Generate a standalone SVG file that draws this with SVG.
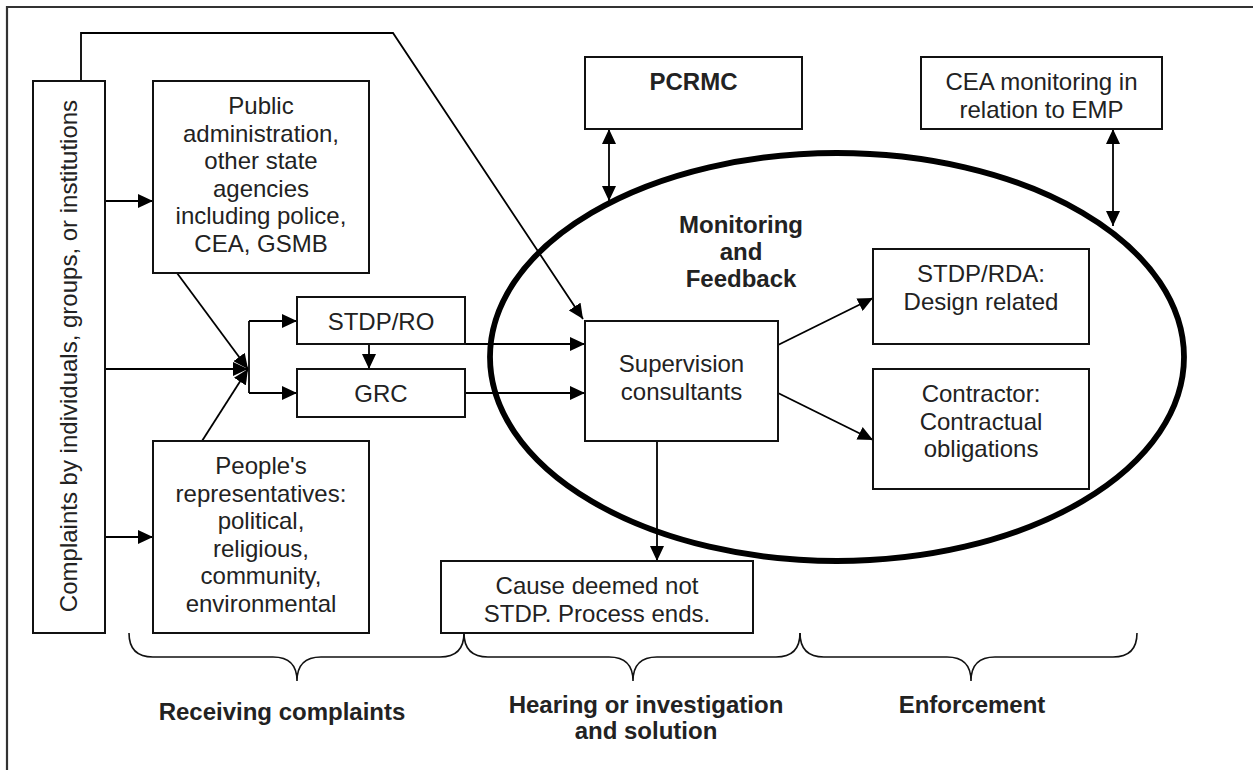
<svg xmlns="http://www.w3.org/2000/svg" width="1253" height="770" viewBox="0 0 1253 770">
  <style>
    .box { fill: #fff; stroke: #111; stroke-width: 2; }
    .t { font-family: "Liberation Sans", Arial, sans-serif; font-size: 24px; fill: #222; text-anchor: middle; }
    .b { font-weight: bold; }
    .ln { fill: none; stroke: #000; stroke-width: 1.8; }
    .arr { marker-end: url(#ah); }
    .dbl { marker-start: url(#ah); marker-end: url(#ah); }
    .brace { fill: none; stroke: #111; stroke-width: 1.6; }
  </style>
  <defs>
    <marker id="ah" viewBox="0 0 15 14" refX="15" refY="7" markerWidth="15" markerHeight="14" markerUnits="userSpaceOnUse" orient="auto-start-reverse">
      <path d="M0,0 L15,7 L0,14 z" fill="#000"/>
    </marker>
  </defs>

  <rect width="1253" height="770" fill="#fff"/>

  <!-- frame (top and left edges) -->
  <path d="M7,770 V7 H1253" fill="none" stroke="#333" stroke-width="2.2"/>

  <!-- monitoring ellipse -->
  <g id="monitoring">
    <ellipse cx="837" cy="357" rx="347" ry="204" fill="none" stroke="#000" stroke-width="5.8"/>
    <text class="t b" x="741" y="233">Monitoring</text>
    <text class="t b" x="741" y="259.5">and</text>
    <text class="t b" x="741" y="287">Feedback</text>
  </g>

  <!-- connectors -->
  <g id="connectors">
    <path class="ln arr" d="M81,81 V33 H393 L583,319"/>
    <path class="ln arr" d="M105,201 H153"/>
    <path class="ln arr" d="M105,537 H153"/>
    <path class="ln arr" d="M105,369 H248"/>
    <path class="ln arr" d="M177,273 L248,369"/>
    <path class="ln arr" d="M202,441 L248,369"/>
    <path class="ln" d="M249,321 V393"/>
    <path class="ln arr" d="M249,321 H297"/>
    <path class="ln arr" d="M249,393 H297"/>
    <path class="ln arr" d="M369,344 V369"/>
    <path class="ln arr" d="M465,344 H585"/>
    <path class="ln arr" d="M465,393 H585"/>
    <path class="ln arr" d="M778,345 L873,298"/>
    <path class="ln arr" d="M778,393 L873,440"/>
    <path class="ln arr" d="M657,441 V561"/>
    <path class="ln dbl" d="M609,129 V201"/>
    <path class="ln dbl" d="M1113,129 V226"/>
  </g>

  <g id="complaints">
    <rect class="box" x="33" y="81" width="72" height="552"/>
    <text class="t" transform="translate(77,356) rotate(-90)" x="0" y="0">Complaints by individuals, groups, or institutions</text>
  </g>

  <g id="public-admin">
    <rect class="box" x="153" y="81" width="216" height="192"/>
    <text class="t" x="261" y="114">Public</text>
    <text class="t" x="261" y="141.5">administration,</text>
    <text class="t" x="261" y="169">other state</text>
    <text class="t" x="261" y="196.5">agencies</text>
    <text class="t" x="261" y="224">including police,</text>
    <text class="t" x="261" y="251.5">CEA, GSMB</text>
  </g>

  <g id="peoples-reps">
    <rect class="box" x="153" y="441" width="216" height="192"/>
    <text class="t" x="261" y="474">People's</text>
    <text class="t" x="261" y="501.5">representatives:</text>
    <text class="t" x="261" y="529">political,</text>
    <text class="t" x="261" y="556.5">religious,</text>
    <text class="t" x="261" y="584">community,</text>
    <text class="t" x="261" y="611.5">environmental</text>
  </g>

  <g id="stdp-ro">
    <rect class="box" x="297" y="297" width="168" height="47"/>
    <text class="t" x="381" y="330">STDP/RO</text>
  </g>

  <g id="grc">
    <rect class="box" x="297" y="369" width="168" height="48"/>
    <text class="t" x="381" y="402">GRC</text>
  </g>

  <g id="supervision">
    <rect class="box" x="585" y="321" width="193" height="120"/>
    <text class="t" x="681.5" y="372">Supervision</text>
    <text class="t" x="681.5" y="399.5">consultants</text>
  </g>

  <g id="stdp-rda">
    <rect class="box" x="873" y="249" width="216" height="95"/>
    <text class="t" x="981" y="282">STDP/RDA:</text>
    <text class="t" x="981" y="309.5">Design related</text>
  </g>

  <g id="contractor">
    <rect class="box" x="873" y="369" width="216" height="120"/>
    <text class="t" x="981" y="402">Contractor:</text>
    <text class="t" x="981" y="429.5">Contractual</text>
    <text class="t" x="981" y="457">obligations</text>
  </g>

  <g id="cause">
    <rect class="box" x="441" y="561" width="312" height="72"/>
    <text class="t" x="597" y="593.5">Cause deemed not</text>
    <text class="t" x="597" y="621.5">STDP. Process ends.</text>
  </g>

  <g id="pcrmc">
    <rect class="box" x="585" y="57" width="217" height="72"/>
    <text class="t b" x="693.5" y="90">PCRMC</text>
  </g>

  <g id="cea">
    <rect class="box" x="921" y="57" width="241" height="72"/>
    <text class="t" x="1041.5" y="90">CEA monitoring in</text>
    <text class="t" x="1041.5" y="117.5">relation to EMP</text>
  </g>

  <!-- phase braces and labels -->
  <g id="phase-receiving">
    <path class="brace" d="M129,633 Q129,657 153,657 H273 Q297,657 297,681 Q297,657 321,657 H440 Q464,657 464,633"/>
    <text class="t b" x="282" y="720">Receiving complaints</text>
  </g>
  <g id="phase-hearing">
    <path class="brace" d="M464,633 Q464,657 488,657 H609 Q633,657 633,681 Q633,657 657,657 H776 Q800,657 800,633"/>
    <text class="t b" x="646" y="713">Hearing or investigation</text>
    <text class="t b" x="646" y="739">and solution</text>
  </g>
  <g id="phase-enforcement">
    <path class="brace" d="M800,633 Q800,657 824,657 H947 Q971,657 971,681 Q971,657 995,657 H1113 Q1137,657 1137,633"/>
    <text class="t b" x="972" y="713">Enforcement</text>
  </g>
</svg>
